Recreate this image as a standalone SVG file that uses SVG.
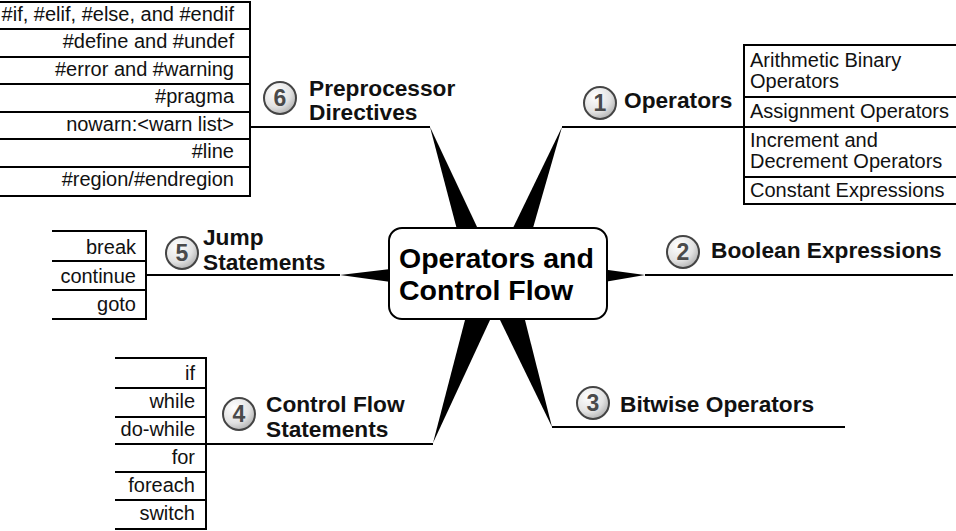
<svg xmlns="http://www.w3.org/2000/svg" width="956" height="531" viewBox="0 0 956 531">
<defs>
<radialGradient id="cg" cx="0.35" cy="0.3" r="0.8">
<stop offset="0" stop-color="#ffffff"/>
<stop offset="0.6" stop-color="#e2e2e2"/>
<stop offset="1" stop-color="#a8a8a8"/>
</radialGradient>
</defs>
<style>
.ln{stroke:#000;stroke-width:2;fill:none}
.sp{fill:#000;stroke:none}
.it{font-family:"Liberation Sans",Arial,sans-serif;font-size:20px;fill:#111}
.r{text-anchor:end}
.lb{font-family:"Liberation Sans",Arial,sans-serif;font-size:22.7px;font-weight:bold;fill:#111}
.cc{fill:url(#cg);stroke:#444;stroke-width:2}
.cn{font-family:"Liberation Sans",Arial,sans-serif;font-size:23px;font-weight:bold;fill:#4a4a4a;text-anchor:middle}
.ct{font-family:"Liberation Sans",Arial,sans-serif;font-size:28.5px;font-weight:bold;fill:#000}
</style>
<rect width="956" height="531" fill="#fff"/>
<g id="connectors">
<polygon class="sp" points="430,127 465,260 492.6,260"/>
<polygon class="sp" points="562,127 497.5,260 523.8,260"/>
<polygon class="sp" points="433,443 472.8,290 503.9,290"/>
<polygon class="sp" points="552,427 485.4,290 517.4,290"/>
<polygon class="sp" points="340,275 420,265.5 420,286"/>
<polygon class="sp" points="645,275 575,265.5 575,287"/>
<path class="ln" d="M250,127 H430"/>
<path class="ln" d="M562,127 H744"/>
<path class="ln" d="M146,275 H340"/>
<path class="ln" d="M645,275 H953"/>
<path class="ln" d="M206,444 H433"/>
<path class="ln" d="M552,427 H845"/>
</g>
<g id="center">
<rect x="389" y="228" width="218" height="91" rx="13" fill="#fff" stroke="#000" stroke-width="2"/>
<text class="ct" x="399" y="268">Operators and</text>
<text class="ct" x="399" y="300">Control Flow</text>
</g>
<g id="n1">
<circle class="cc" cx="600" cy="103" r="16"/>
<text class="cn" x="600" y="111">1</text>
<text class="lb" x="624" y="108">Operators</text>
</g>
<g id="n1-items">
<path class="ln" d="M956,45 H744 V204 H956 M744,97 H956 M744,127 H956 M744,177 H956"/>
<text class="it" x="750" y="67">Arithmetic Binary</text>
<text class="it" x="750" y="88">Operators</text>
<text class="it" x="750" y="118">Assignment Operators</text>
<text class="it" x="750" y="147">Increment and</text>
<text class="it" x="750" y="168">Decrement Operators</text>
<text class="it" x="750" y="197">Constant Expressions</text>
</g>
<g id="n2">
<circle class="cc" cx="683" cy="252" r="16"/>
<text class="cn" x="683" y="260">2</text>
<text class="lb" x="711" y="258">Boolean Expressions</text>
</g>
<g id="n3">
<circle class="cc" cx="593" cy="403" r="16"/>
<text class="cn" x="593" y="411">3</text>
<text class="lb" x="620" y="412">Bitwise Operators</text>
</g>
<g id="n4">
<circle class="cc" cx="239" cy="414" r="16"/>
<text class="cn" x="239" y="422">4</text>
<text class="lb" x="266" y="412">Control Flow</text>
<text class="lb" x="266" y="437">Statements</text>
</g>
<g id="n4-items">
<path class="ln" d="M115,358 H206 V529 H115 M115,388 H206 M115,417 H206 M115,444 H206 M115,472 H206 M115,500 H206"/>
<text class="it r" x="195" y="380">if</text>
<text class="it r" x="195" y="408">while</text>
<text class="it r" x="195" y="436">do-while</text>
<text class="it r" x="195" y="464">for</text>
<text class="it r" x="195" y="492">foreach</text>
<text class="it r" x="195" y="520">switch</text>
</g>
<g id="n5">
<circle class="cc" cx="182" cy="253" r="16"/>
<text class="cn" x="182" y="261">5</text>
<text class="lb" x="203" y="245">Jump</text>
<text class="lb" x="203" y="270">Statements</text>
</g>
<g id="n5-items">
<path class="ln" d="M52,231 H146 V319 H52 M52,261 H146 M52,290 H146"/>
<text class="it r" x="136" y="254">break</text>
<text class="it r" x="136" y="283">continue</text>
<text class="it r" x="136" y="311">goto</text>
</g>
<g id="n6">
<circle class="cc" cx="280" cy="98" r="16"/>
<text class="cn" x="280" y="106">6</text>
<text class="lb" x="309" y="96">Preprocessor</text>
<text class="lb" x="309" y="120">Directives</text>
</g>
<g id="n6-items">
<path class="ln" d="M0,2 H250 V196 H0 M0,29 H250 M0,57 H250 M0,84 H250 M0,112 H250 M0,139 H250 M0,167 H250"/>
<text class="it r" x="234" y="21">#if, #elif, #else, and #endif</text>
<text class="it r" x="234" y="48">#define and #undef</text>
<text class="it r" x="234" y="76">#error and #warning</text>
<text class="it r" x="234" y="103">#pragma</text>
<text class="it r" x="234" y="131">nowarn:&lt;warn list&gt;</text>
<text class="it r" x="234" y="158">#line</text>
<text class="it r" x="234" y="186">#region/#endregion</text>
</g>
</svg>
